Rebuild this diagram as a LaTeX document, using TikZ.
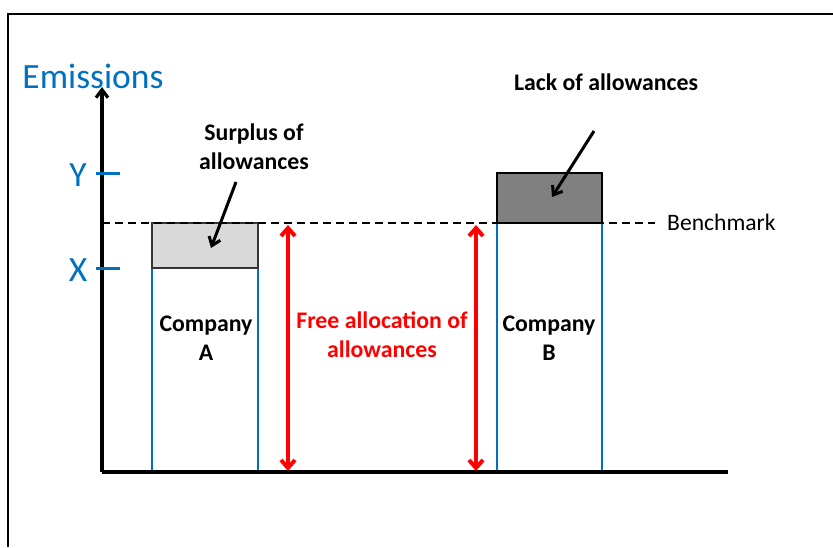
\documentclass[tikz,border=0pt]{standalone}
\usepackage{fontspec}
\setmainfont{Carlito}
\usetikzlibrary{arrows.meta}
\definecolor{axisblue}{RGB}{0,112,192}
\definecolor{lightbar}{RGB}{217,217,217}
\definecolor{darkbar}{RGB}{128,128,128}

\begin{document}
\begin{tikzpicture}[x=1pt,y=-1pt,
	boldtext/.style={font=\bfseries\fontsize{23.8}{29}\selectfont,align=center,inner sep=0pt},
	axistext/.style={font=\fontsize{35.5}{40}\selectfont,text=axisblue,inner sep=0pt},
	pointer/.style={line width=3pt,-{Straight Barb[length=8pt,width=12pt]}},
	allocation/.style={red,line width=4pt,{Straight Barb[length=8pt,width=14pt]}-{Straight Barb[length=8pt,width=14pt]}}]
	\useasboundingbox (0,0) rectangle (833,547);
	% frame
	\draw[line width=1.6pt] (8,547) -- (8,14) -- (833,14);
	% axes points
	\coordinate (O) at (102,472);
	\coordinate (T) at (102,87);
	\coordinate (E) at (728,472);
	% bars
	\draw[axisblue,line width=1.5pt] (152,268) rectangle (258,472);
	\draw[fill=lightbar,draw=black!80,line width=1.5pt] (152,223) rectangle (258,268);
	\draw[axisblue,line width=1.5pt] (497,223) rectangle (602,472);
	\draw[fill=darkbar,draw=black,line width=1.5pt] (497,173) rectangle (602,223);
	% benchmark
	\coordinate (BL) at (102,223);
	\coordinate (BR) at (655,223);
	\draw[line width=2.8pt,dash pattern=on 8pt off 5pt] (BL) -- (BR);
	\node[anchor=west,font=\fontsize{23.6}{28}\selectfont,inner sep=0pt] (bench) at (667,222) {Benchmark};
	% axes
	\draw[line width=3.2pt,-{Straight Barb[length=8pt,width=12pt]}] (O) -- (T);
	\draw[line width=3.2pt] (O) -- (E);
	\node[axistext] (emis) at (93,76) {Emissions};
	\draw[axisblue,line width=3pt] (96,173) -- (120,173);
	\node[axistext] (ylab) at (78,175) {Y};
	\draw[axisblue,line width=3pt] (96,268) -- (120,268);
	\node[axistext] (xlab) at (78,270) {X};
	% labels
	\node[boldtext] (surplus) at (254,147) {Surplus of\\allowances};
	\node[boldtext] (lack) at (606,82) {Lack of allowances};
	\node[boldtext] (compA) at (206,338) {Company\\A};
	\node[boldtext] (compB) at (549,338) {Company\\B};
	\node[boldtext,text=red] (free) at (382,335) {Free allocation of\\allowances};
	% pointers
	\coordinate (sA) at (236,182);
	\coordinate (sB) at (211,248);
	\draw[pointer] (sA) -- (sB);
	\coordinate (lA) at (594,131);
	\coordinate (lB) at (552,197);
	\draw[pointer] (lA) -- (lB);
	% free allocation arrows
	\coordinate (fA1) at (288,225);
	\coordinate (fA2) at (288,471);
	\draw[allocation] (fA1) -- (fA2);
	\coordinate (fB1) at (476,225);
	\coordinate (fB2) at (476,471);
	\draw[allocation] (fB1) -- (fB2);
\end{tikzpicture}
\end{document}
